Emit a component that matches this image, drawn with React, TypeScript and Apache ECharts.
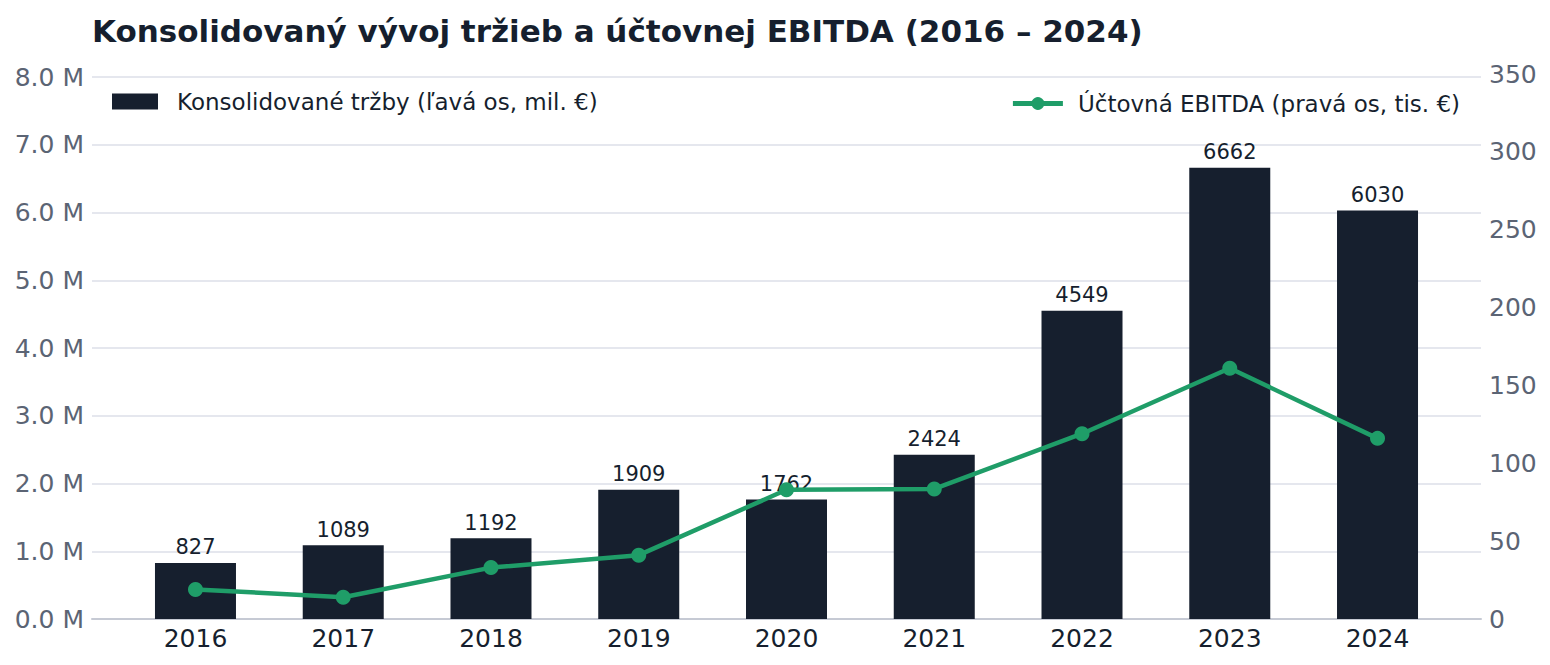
import React, { useEffect, useRef } from 'react';
import * as echarts from 'echarts';

const years = ['2016', '2017', '2018', '2019', '2020', '2021', '2022', '2023', '2024'];
// revenue in thousands of EUR (axis shows millions)
const revenue = [827, 1089, 1192, 1909, 1762, 2424, 4549, 6662, 6030];
// EBITDA in thousands of EUR
const ebitda = [19, 14, 33, 41, 83, 83.5, 119, 161, 116];

const NAVY = '#161f2e';
const GREEN = '#1f9d68';
const GREY = '#5b6474';
const FONT = 'DejaVu Sans';

const App: React.FC = () => {
  const chartRef = useRef<HTMLDivElement>(null);

  useEffect(() => {
    if (!chartRef.current) return;
    const chart = echarts.init(chartRef.current, undefined, { renderer: 'svg' });
    // outer plot area, and an inset one for the bars (matplotlib-like x margins)
    const outer = { left: 84, right: 61, bottom: 38 };
    const inner = { left: 113.6, right: 90.6, bottom: 38 };
    chart.setOption({
      animation: false,
      textStyle: { fontFamily: FONT },
      title: {
        text: 'Konsolidovaný vývoj tržieb a účtovnej EBITDA (2016 – 2024)',
        left: 79,
        top: 2,
        textStyle: { fontFamily: FONT, fontSize: 31, fontWeight: 'bold', color: NAVY }
      },
      legend: [
        {
          data: ['Konsolidované tržby (ľavá os, mil. €)'],
          left: 104,
          top: 82,
          padding: 0,
          icon: 'rect',
          itemWidth: 46,
          itemHeight: 16,
          textStyle: { fontFamily: FONT, fontSize: 23, color: NAVY, padding: [0, 0, 0, 14] }
        },
        {
          data: ['Účtovná EBITDA (pravá os, tis. €)'],
          right: 82,
          top: 84,
          padding: 0,
          itemWidth: 50,
          itemHeight: 16,
          lineStyle: { width: 5 },
          textStyle: { fontFamily: FONT, fontSize: 23, color: NAVY, padding: [0, 0, 0, 10] }
        }
      ],
      grid: [
        { ...outer, top: 69 },
        { ...inner, top: 69 },
        { ...inner, top: 66 }
      ],
      xAxis: [
        {
          type: 'category',
          data: years,
          gridIndex: 0,
          axisTick: { show: false },
          axisLabel: { show: false },
          axisLine: { lineStyle: { color: '#c6cad4', width: 2 } }
        },
        {
          type: 'category',
          data: years,
          gridIndex: 1,
          axisTick: { show: false },
          axisLine: { show: false },
          axisLabel: { fontFamily: FONT, fontSize: 25, color: NAVY, margin: 7 }
        },
        {
          type: 'category',
          data: years,
          gridIndex: 2,
          show: false
        }
      ],
      yAxis: [
        {
          type: 'value',
          gridIndex: 0,
          min: 0,
          max: 8000,
          interval: 1000,
          axisLine: { show: false },
          axisTick: { show: false },
          splitLine: { lineStyle: { color: '#e5e7ee', width: 2 } },
          axisLabel: {
            fontFamily: FONT,
            fontSize: 25,
            color: GREY,
            margin: 8,
            formatter: (v: number) => (v / 1000).toFixed(1) + ' M'
          }
        },
        {
          type: 'value',
          gridIndex: 1,
          min: 0,
          max: 8000,
          show: false
        },
        {
          type: 'value',
          gridIndex: 2,
          position: 'right',
          min: 0,
          max: 350,
          interval: 50,
          axisLine: { show: false },
          axisTick: { show: false },
          splitLine: { show: false },
          axisLabel: { fontFamily: FONT, fontSize: 25, color: GREY, margin: 37.6 }
        }
      ],
      series: [
        {
          name: 'Konsolidované tržby (ľavá os, mil. €)',
          type: 'bar',
          xAxisIndex: 1,
          yAxisIndex: 1,
          data: revenue,
          barWidth: 81,
          itemStyle: { color: NAVY },
          label: {
            show: true,
            position: 'top',
            distance: 5,
            fontFamily: FONT,
            fontSize: 21,
            color: NAVY
          }
        },
        {
          name: 'Účtovná EBITDA (pravá os, tis. €)',
          type: 'line',
          xAxisIndex: 2,
          yAxisIndex: 2,
          data: ebitda,
          symbol: 'circle',
          symbolSize: 15,
          lineStyle: { color: GREEN, width: 4.5 },
          itemStyle: { color: GREEN }
        }
      ]
    });
    return () => {
      chart.dispose();
    };
  }, []);

  return <div ref={chartRef} style={{ width: '100%', height: 649 }} />;
};

export default App;
